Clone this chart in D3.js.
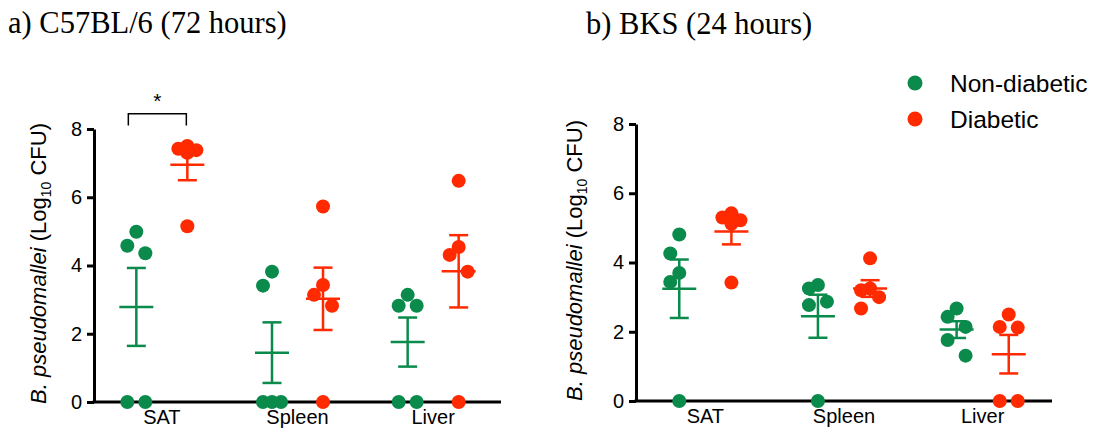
<!DOCTYPE html>
<html>
<head>
<meta charset="utf-8">
<script src="https://cdn.jsdelivr.net/npm/d3@7"></script>
<style>
  body { margin: 0; background: #fff; }
  svg { display: block; }
</style>
</head>
<body>
<div id="viz"></div>
<script>
const width = 1100;
const height = 430;

const categories = ['SAT', 'Spleen', 'Liver'];
const groups = [
  { key: 'nondiabetic', label: 'Non-diabetic', color: '#0b8b4b' },
  { key: 'diabetic', label: 'Diabetic', color: '#ff2a00' },
];
const yTicks = [0, 2, 4, 6, 8];

// log10 CFU per mouse, one inner array per organ (SAT, Spleen, Liver)
const c57NonDiabetic = [
  [4.99, 4.58, 4.36, 0, 0],
  [3.82, 3.41, 0, 0, 0],
  [3.14, 2.82, 2.82, 0, 0],
];
const c57Diabetic = [
  [7.5, 7.42, 7.38, 7.3, 5.15],
  [5.73, 3.43, 3.14, 2.82, 0],
  [6.48, 4.54, 4.31, 3.82, 0],
];
const bksNonDiabetic = [
  [4.81, 4.26, 3.70, 3.44, 0],
  [3.35, 3.25, 2.87, 2.77, 0],
  [2.67, 2.43, 2.14, 1.76, 1.31],
];
const bksDiabetic = [
  [5.42, 5.3, 5.22, 5.12, 3.42],
  [4.12, 3.25, 3.2, 3.0, 2.67],
  [2.5, 2.14, 2.12, 0, 0],
];

const panels = [
  { title: 'a) C57BL/6 (72 hours)', titleX: 8, titleY: 33,
    left: 94, right: 501, top: 129, bottom: 402, yTitleX: 46,
    series: { nondiabetic: c57NonDiabetic, diabetic: c57Diabetic },
    star: { category: 'SAT' } },
  { title: 'b) BKS (24 hours)', titleX: 586, titleY: 34,
    left: 636, right: 1052, top: 124, bottom: 401, yTitleX: 582,
    series: { nondiabetic: bksNonDiabetic, diabetic: bksDiabetic } },
];

const font = '"Liberation Sans", Arial, sans-serif';
const dotR = 7;
const step = 9;      // horizontal dodge step for overlapping dots
const minDist = 20;  // dots closer than this get moved sideways

const svg = d3.select('#viz')
  .append('svg')
    .attr('width', width)
    .attr('height', height);

// simple deterministic dot arrangement, like a scatter dot plot
const dodge = (values, y) => {
  const offsets = new Array(values.length);
  const placed = [];
  const order = d3.range(values.length).sort((a, b) => values[b] - values[a]);
  const ties = d3.group(order, i => values[i]);
  ties.forEach(idx => {
    if (idx.length < 2) return;
    idx.forEach((i, k) => {
      offsets[i] = -step + (2 * step * k) / (idx.length - 1);
      placed.push({ dx: offsets[i], py: y(values[i]) });
    });
  });
  order.forEach(i => {
    if (offsets[i] !== undefined) return;
    const py = y(values[i]);
    let best = null, bestD = -1;
    for (const c of [0, -step, step]) {
      const d = placed.length ? d3.min(placed, p => Math.hypot(p.dx - c, p.py - py)) : Infinity;
      if (d >= minDist) { best = c; bestD = d; break; }
      if (d > bestD) { best = c; bestD = d; }
    }
    offsets[i] = best;
    placed.push({ dx: best, py });
  });
  return offsets;
};

const drawPanel = (p) => {
  const x0 = d3.scaleBand()
    .domain(categories)
    .range([p.left, p.right]);
  const x1 = d3.scalePoint()
    .domain(groups.map(g => g.key))
    .range([0, x0.bandwidth()])
    .padding(0.83);
  const y = d3.scaleLinear()
    .domain([0, 8])
    .range([p.bottom, p.top]);

  const g = svg.append('g');

  // title
  svg.append('text')
    .attr('x', p.titleX)
    .attr('y', p.titleY)
    .style('font-family', '"Liberation Serif", "Times New Roman", serif')
    .style('font-size', '30.5px')
    .text(p.title);

  // y axis
  const yAxis = g.append('g')
    .attr('transform', `translate(${p.left},0)`)
    .call(d3.axisLeft(y).tickValues(yTicks).tickSize(7).tickPadding(5).tickSizeOuter(0));
  yAxis.selectAll('path, line').attr('stroke', '#000').attr('stroke-width', 3);
  yAxis.selectAll('text').style('font-family', font).style('font-size', '20px').attr('fill', '#000');

  // x axis
  const xAxis = g.append('g')
    .attr('transform', `translate(0,${p.bottom})`)
    .call(d3.axisBottom(x0).tickSize(0).tickPadding(8));
  xAxis.select('.domain').attr('stroke', '#000').attr('stroke-width', 3)
    .attr('d', `M${p.left - 1.5},0H${p.right}`);
  xAxis.selectAll('text').style('font-family', font).style('font-size', '20px').attr('fill', '#000');

  // y axis title
  const yt = g.append('text')
    .attr('transform', `translate(${p.yTitleX},${(p.top + p.bottom) / 2 - 2}) rotate(-90)`)
    .attr('text-anchor', 'middle')
    .style('font-family', font)
    .style('font-size', '22px');
  yt.append('tspan').style('font-style', 'italic').text('B. pseudomallei');
  yt.append('tspan').text(' (Log');
  yt.append('tspan').attr('dy', 5).style('font-size', '14px').text('10');
  yt.append('tspan').attr('dy', -5).text(' CFU)');

  // error bars (mean +/- SEM) and dots
  groups.forEach(grp => {
    const seriesData = p.series[grp.key];
    categories.forEach((cat, ci) => {
      const vals = seriesData[ci];
      const cx = x0(cat) + x1(grp.key);
      const mean = d3.mean(vals);
      const sem = d3.deviation(vals) / Math.sqrt(vals.length);
      const eb = g.append('g')
        .attr('stroke', grp.color)
        .attr('stroke-width', 2.5)
        .attr('fill', 'none');
      eb.append('line')
        .attr('x1', cx - 17).attr('x2', cx + 17)
        .attr('y1', y(mean)).attr('y2', y(mean));
      eb.append('line')
        .attr('x1', cx).attr('x2', cx)
        .attr('y1', y(mean - sem)).attr('y2', y(mean + sem));
      [mean - sem, mean + sem].forEach(v => {
        eb.append('line')
          .attr('x1', cx - 9.5).attr('x2', cx + 9.5)
          .attr('y1', y(v)).attr('y2', y(v));
      });

      const offsets = dodge(vals, y);
      g.append('g')
        .selectAll('circle')
        .data(vals)
        .join('circle')
          .attr('cx', (d, i) => cx + offsets[i])
          .attr('cy', d => y(d))
          .attr('r', dotR)
          .attr('fill', grp.color);
    });
  });

  // significance bracket
  if (p.star) {
    const xa = x0(p.star.category) + x1(groups[0].key) - 8;
    const xb = x0(p.star.category) + x1(groups[1].key) - 1;
    g.append('path')
      .attr('d', `M${xa},${y(8.1)}V${y(8.45)}H${xb}V${y(8.1)}`)
      .attr('fill', 'none')
      .attr('stroke', '#000')
      .attr('stroke-width', 1.5);
    g.append('text')
      .attr('x', (xa + xb) / 2)
      .attr('y', y(8.62))
      .attr('text-anchor', 'middle')
      .style('font-family', font)
      .style('font-size', '21px')
      .text('*');
  }
};

panels.forEach(drawPanel);

// legend
const legend = svg.append('g')
  .selectAll('g')
  .data(groups)
  .join('g')
    .attr('transform', (d, i) => `translate(915,${83 + i * 36})`);
legend.append('circle')
  .attr('r', 7.5)
  .attr('fill', d => d.color);
legend.append('text')
  .attr('x', 35)
  .attr('y', 8.5)
  .style('font-family', font)
  .style('font-size', '24.5px')
  .text(d => d.label);
</script>
</body>
</html>
